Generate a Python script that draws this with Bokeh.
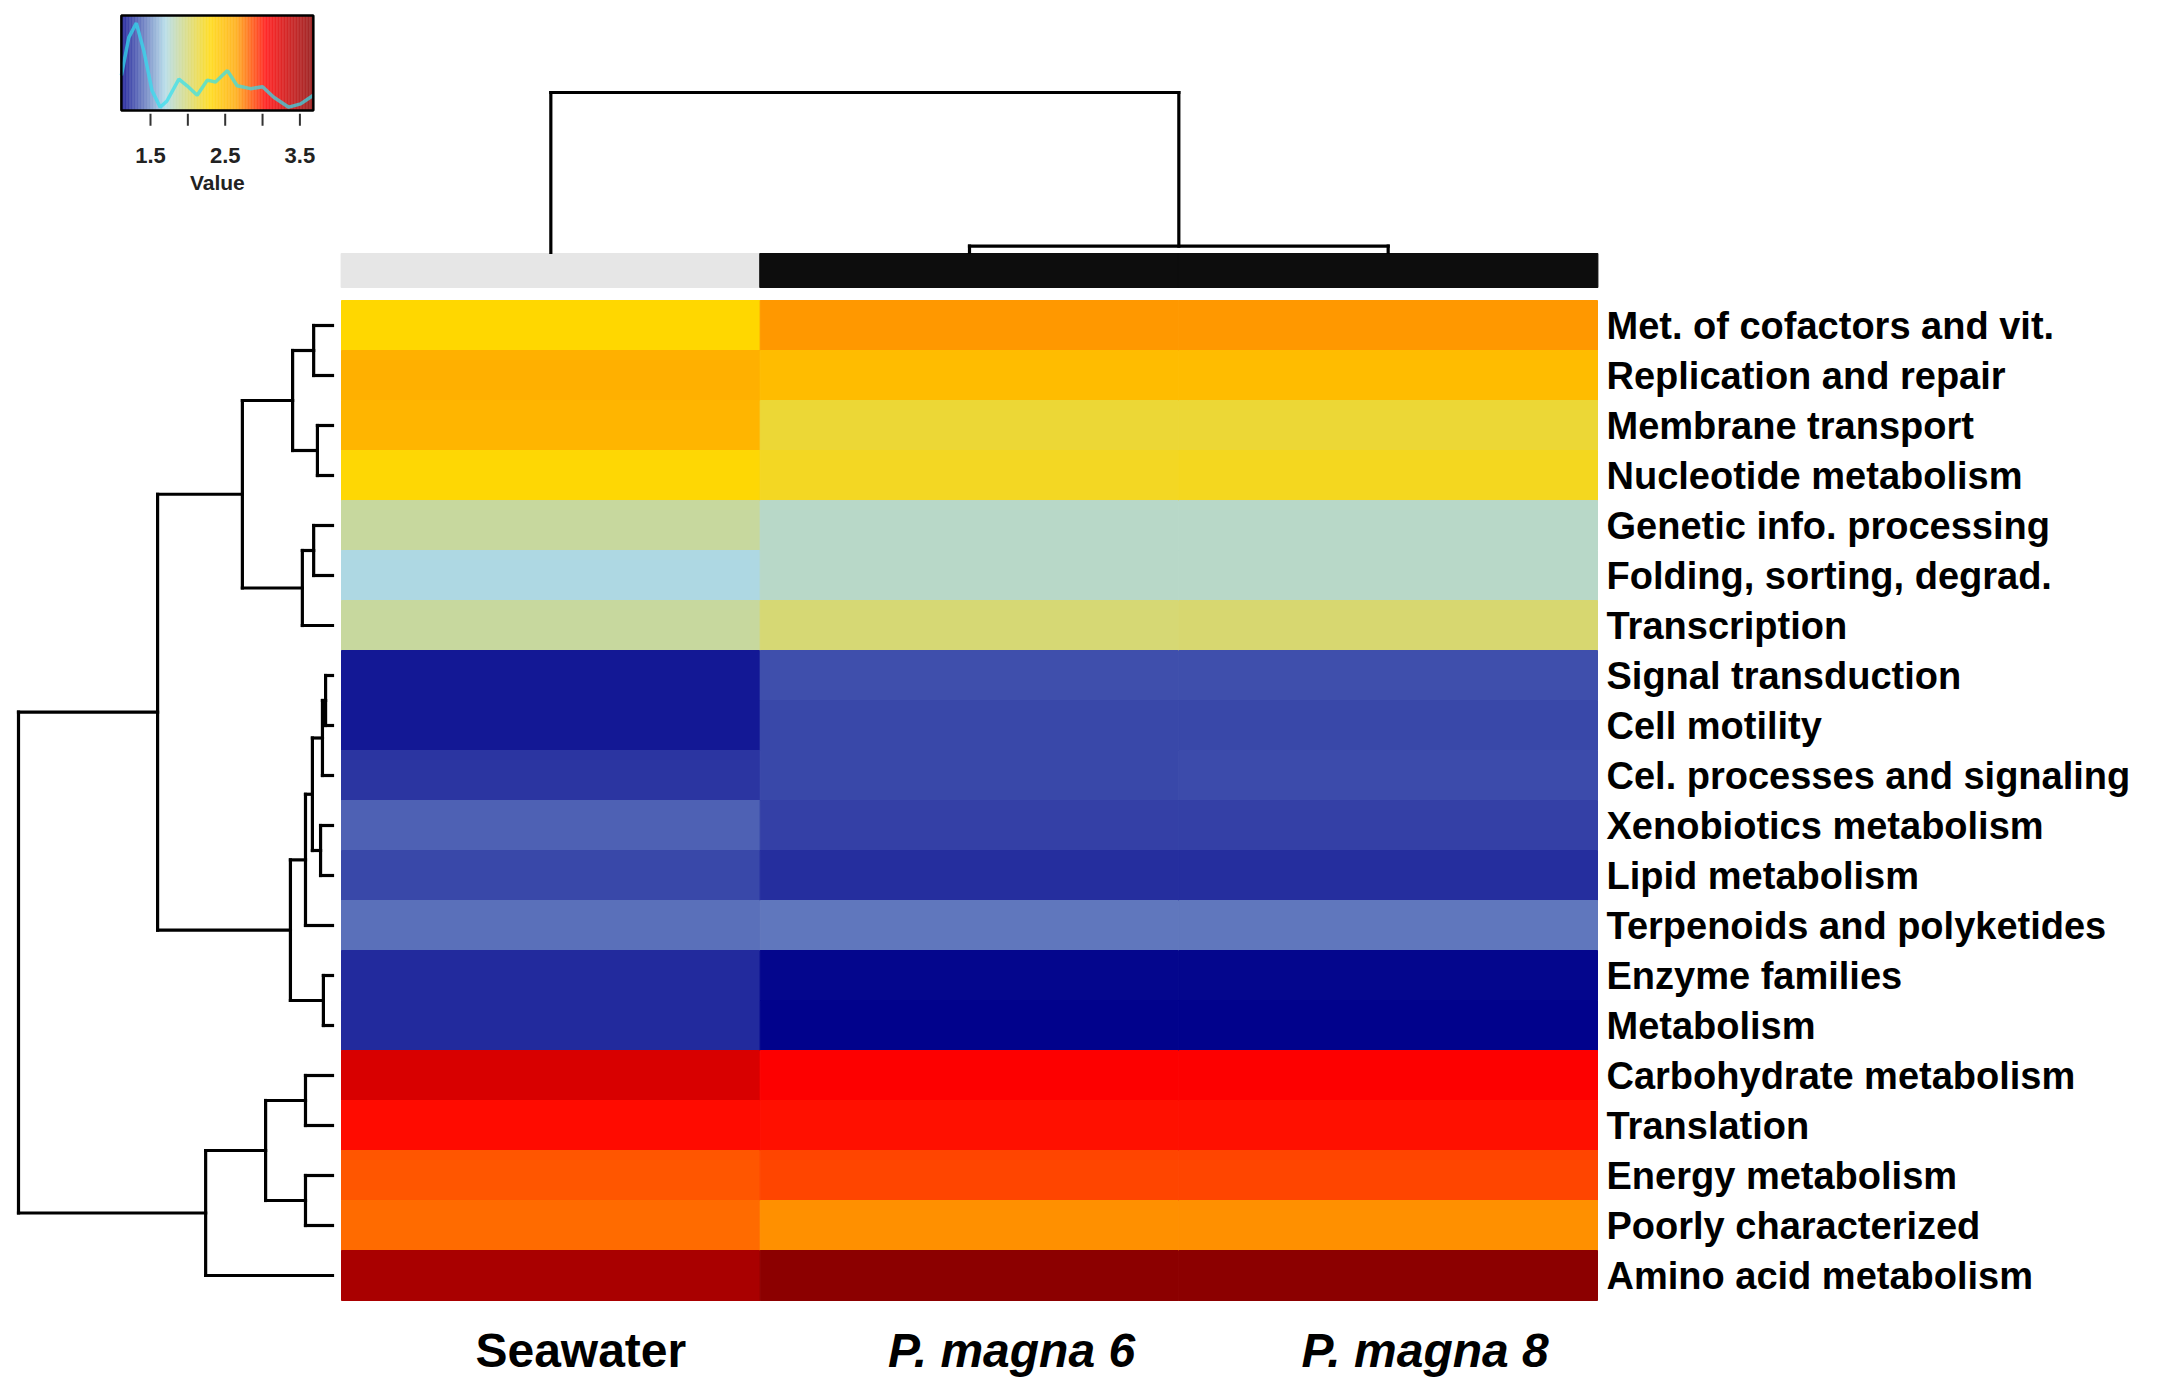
import numpy as np
from bokeh.plotting import figure
from bokeh.models import Range1d, LinearColorMapper, ColumnDataSource
from bokeh.transform import transform
from bokeh.core.properties import value
from bokeh.embed import file_html
from bokeh.resources import INLINE

# ---------------- data ----------------
row_labels = [
    "Met. of cofactors and vit.", "Replication and repair", "Membrane transport",
    "Nucleotide metabolism", "Genetic info. processing", "Folding, sorting, degrad.",
    "Transcription", "Signal transduction", "Cell motility",
    "Cel. processes and signaling", "Xenobiotics metabolism", "Lipid metabolism",
    "Terpenoids and polyketides", "Enzyme families", "Metabolism",
    "Carbohydrate metabolism", "Translation", "Energy metabolism",
    "Poorly characterized", "Amino acid metabolism",
]
col_labels = ["Seawater", "P. magna 6", "P. magna 8"]
col_groups = ["Seawater", "P. magna", "P. magna"]

seawater  = [2.30, 2.57, 2.545, 2.29, 1.89, 1.71, 1.885, 1.175, 1.175, 1.26,
             1.375, 1.31, 1.415, 1.23, 1.23, 3.26, 3.025, 2.84, 2.79, 3.51]
p_magna_6 = [2.68, 2.49, 2.155, 2.205, 1.775, 1.775, 2.00, 1.33, 1.31, 1.31,
             1.29, 1.235, 1.44, 1.13, 1.11, 3.06, 3.01, 2.88, 2.70, 3.68]
p_magna_8 = [2.68, 2.49, 2.16, 2.22, 1.78, 1.775, 2.005, 1.33, 1.31, 1.315,
             1.29, 1.235, 1.44, 1.13, 1.11, 3.06, 3.01, 2.88, 2.70, 3.68]

# row dendrogram (hclust style: negative = leaf row number, positive = merge step)
row_merge_a = [-8, 1, -14, -11, -3, -1, -5, 2, 8, -16, -18, 7, 6, 9, 10, 13, 15, 16, 18]
row_merge_b = [-9, -10, -15, -12, -4, -2, -6, 4, -13, -17, -19, -7, 5, 3, 11, 12, -20, 14, 17]
row_merge_h = [0.22, 0.32, 0.29, 0.38, 0.48, 0.60, 0.60, 0.64, 0.86, 0.86, 0.86,
               0.96, 1.27, 1.34, 2.13, 2.87, 4.04, 5.57, 10.0]

# column dendrogram
col_merge_a = [-2, -1]
col_merge_b = [-3, 1]
col_merge_h = [0.4, 10.0]

# colour key
key_ticks = [1.5, 2.0, 2.5, 3.0, 3.5]
key_tick_labels = ["1.5", "", "2.5", "", "3.5"]
density_x = [1.11, 1.21, 1.31, 1.41, 1.52, 1.63, 1.72, 1.88, 1.99, 2.125, 2.26, 2.37,
             2.53, 2.66, 2.84, 3.00, 3.15, 3.35, 3.51, 3.68]
density_y = [0.37, 0.77, 0.92, 0.63, 0.21, 0.035, 0.10, 0.33, 0.26, 0.16, 0.32, 0.30,
             0.42, 0.26, 0.23, 0.25, 0.14, 0.035, 0.07, 0.16]

# ---------------- styling / layout ----------------
W, H = 2156, 1378
FONT = "Liberation Sans"

vals = [seawater, p_magna_6, p_magna_8]
vmin = min(min(v) for v in vals)
vmax = max(max(v) for v in vals)

anchor_v = [vmin, 1.70, 2.30, 2.65, 3.05, vmax]
anchor_c = ["#00008B", "#ADD8E6", "#FFD700", "#FFA500", "#FF0000", "#8B0000"]

def hex2rgb(h):
    h = h.lstrip("#")
    return [int(h[i:i + 2], 16) for i in (0, 2, 4)]

rgbs = np.array([hex2rgb(c) for c in anchor_c], dtype=float)
N = 256
centers = vmin + (np.arange(N) + 0.5) / N * (vmax - vmin)
palette = []
for v in centers:
    r = np.interp(v, anchor_v, rgbs[:, 0])
    g = np.interp(v, anchor_v, rgbs[:, 1])
    b = np.interp(v, anchor_v, rgbs[:, 2])
    palette.append("#%02x%02x%02x" % (int(round(r)), int(round(g)), int(round(b))))
mapper = LinearColorMapper(palette=palette, low=vmin, high=vmax)


def xr(d0, x0, d1, x1):
    s = (d1 - d0) / (x1 - x0)
    return Range1d(start=d0 - x0 * s, end=d0 + (W - x0) * s)


def yr(d0, y0, d1, y1):  # y measured from top of canvas
    s = (d1 - d0) / (y1 - y0)
    return Range1d(start=d0 + (H - y0) * s, end=d0 - y0 * s)


nrow, ncol = len(row_labels), len(col_labels)
hx = xr(0, 341, ncol, 1597)          # heatmap columns
hy = yr(0, 300, nrow, 1300)          # heatmap rows (downward)

p = figure(width=W, height=H, x_range=hx, y_range=hy, output_backend="svg",
           toolbar_location=None, x_axis_type=None, y_axis_type=None,
           min_border=0, outline_line_color=None)
p.grid.visible = False
p.background_fill_color = "white"
p.border_fill_color = "white"

p.extra_x_ranges = {"dx": xr(0, 332, 10, 18), "kx": xr(1.5, 150, 3.5, 299.4)}
p.extra_y_ranges = {"ty": yr(0, 252, 10, 92), "ky": yr(0, 110, 1, 15)}

# ---------------- heatmap ----------------
xs, ys, vs = [], [], []
for ci, col in enumerate(vals):
    for ri, v in enumerate(col):
        xs.append(ci + 0.5)
        ys.append(ri + 0.5)
        vs.append(v)
src = ColumnDataSource(dict(x=xs, y=ys, v=vs))
p.rect(x="x", y="y", width=1, height=1, source=src,
       fill_color=transform("v", mapper), line_color=transform("v", mapper), line_width=1)

# column side colours
group_color = {"Seawater": "#e6e6e6", "P. magna": "#0d0d0d"}
p.rect(x=[i + 0.5 for i in range(ncol)], y=[-0.6] * ncol, width=1.002, height=0.68,
       fill_color=[group_color[g] for g in col_groups],
       line_color=[group_color[g] for g in col_groups])

# row labels
p.text(x=[ncol] * nrow, y=[i + 0.5 for i in range(nrow)], text=row_labels,
       x_offset=9, text_align="left", text_baseline="middle",
       text_font=value(FONT), text_font_size="38px", text_font_style="bold",
       text_color="black")

# column labels
csrc = ColumnDataSource(dict(x=[i + 0.5 for i in range(ncol)], y=[21.0] * ncol,
                             t=col_labels, st=["bold", "bold italic", "bold italic"],
                             dx=[30, 42, 37]))
p.text(x="x", y="y", text="t", source=csrc, x_offset="dx",
       text_align="center", text_baseline="middle",
       text_font=value(FONT), text_font_size="48px", text_font_style="st",
       text_color="black")

# ---------------- dendrograms ----------------
def dendro(a, b, h, leaf_pos):
    pos, hts, segs = {}, {}, []

    def get(n):
        if n < 0:
            return leaf_pos[-n - 1], 0.0
        return pos[n], hts[n]

    for i, (ai, bi, hi) in enumerate(zip(a, b, h), start=1):
        pa, ha = get(ai)
        pb, hb = get(bi)
        segs.append((ha, pa, hi, pa))
        segs.append((hb, pb, hi, pb))
        segs.append((hi, pa, hi, pb))
        pos[i], hts[i] = (pa + pb) / 2, hi
    return segs

rsegs = dendro(row_merge_a, row_merge_b, row_merge_h, [i + 0.5 for i in range(nrow)])
p.segment(x0=[s[0] for s in rsegs], y0=[s[1] for s in rsegs],
          x1=[s[2] for s in rsegs], y1=[s[3] for s in rsegs],
          x_range_name="dx", line_color="black", line_width=3.2, line_cap="square")

csegs = dendro(col_merge_a, col_merge_b, col_merge_h, [i + 0.5 for i in range(ncol)])
p.segment(x0=[s[1] for s in csegs], y0=[s[0] for s in csegs],
          x1=[s[3] for s in csegs], y1=[s[2] for s in csegs],
          y_range_name="ty", line_color="black", line_width=3.2, line_cap="square")

# ---------------- colour key ----------------
step = (vmax - vmin) / N
p.rect(x=list(centers), y=[0.5] * N, width=step * 1.05, height=1.0,
       fill_color=palette, line_color=None, x_range_name="kx", y_range_name="ky")
p.line(x=density_x, y=density_y, x_range_name="kx", y_range_name="ky",
       line_color="#30e0f0", line_alpha=0.7, line_width=3.5)
p.rect(x=[(vmin + vmax) / 2], y=[0.5], width=vmax - vmin, height=1.0,
       fill_color=None, line_color="black", line_width=2.5,
       x_range_name="kx", y_range_name="ky")
p.segment(x0=key_ticks, y0=[-0.035] * len(key_ticks), x1=key_ticks,
          y1=[-0.16] * len(key_ticks), x_range_name="kx", y_range_name="ky",
          line_color="#333333", line_width=2)
p.text(x=key_ticks, y=[-0.47] * len(key_ticks), text=key_tick_labels,
       x_range_name="kx", y_range_name="ky", text_align="center",
       text_baseline="middle", text_font=value(FONT), text_font_size="22px",
       text_font_style="bold", text_color="#222222")
p.text(x=[(vmin + vmax) / 2], y=[-0.76], text=["Value"],
       x_range_name="kx", y_range_name="ky", text_align="center",
       text_baseline="middle", text_font=value(FONT), text_font_size="21px",
       text_font_style="bold", text_color="#222222")

open("out.html", "w").write(file_html(p, INLINE))
